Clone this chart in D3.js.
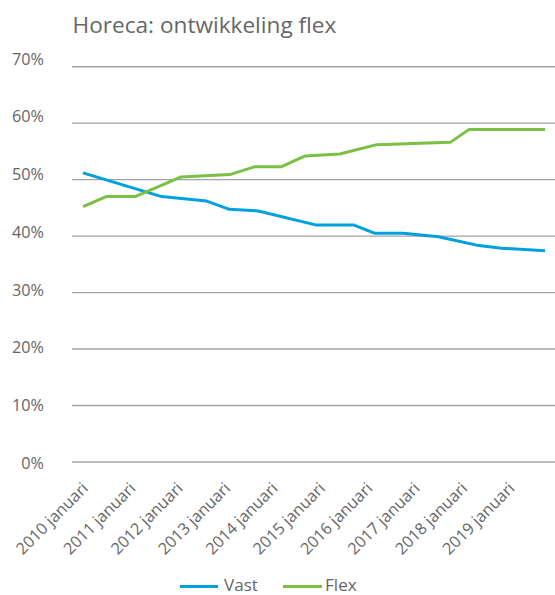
<!DOCTYPE html>
<html><head><meta charset="utf-8">
<script src="https://cdn.jsdelivr.net/npm/d3@7"></script>
<style>body{margin:0;background:#fff} svg{display:block}</style>
</head><body>
<script>
// ---- data ----
const titleText = "Horeca: ontwikkeling flex";
const tickYears = [2010, 2011, 2012, 2013, 2014, 2015, 2016, 2017, 2018, 2019];
const tickLabels = tickYears.map(y => y + " januari");
const yTicks = [0, 10, 20, 30, 40, 50, 60, 70];
const seriesNames = ["Vast", "Flex"];
// time (decimal year) and value (%) at each visible vertex
const vastT = [2010.00, 2011.66, 2012.61, 2013.09, 2013.70, 2014.93, 2015.72, 2016.16, 2016.76, 2017.50, 2018.31, 2018.84, 2019.75];
const vastV = [51.2, 47.0, 46.2, 44.75, 44.45, 41.95, 41.95, 40.5, 40.5, 39.9, 38.4, 37.85, 37.4];
const flexT = [2010.00, 2010.49, 2011.10, 2012.06, 2013.10, 2013.63, 2014.19, 2014.69, 2015.42, 2016.20, 2017.75, 2018.15, 2019.75];
const flexV = [45.2, 47.0, 47.0, 50.45, 50.9, 52.3, 52.3, 54.2, 54.55, 56.2, 56.6, 58.9, 58.9];
const colors = ["#00a0df", "#7ac143"];

// ---- layout ----
const W = 555, H = 595;
const FONT = "'Open Sans', sans-serif";
const TXT = "#666666";
const svg = d3.select("body").append("svg").attr("width", W).attr("height", H);

const x = d3.scaleLinear().domain([2010, 2019.75]).range([83, 545]);
const y = d3.scaleLinear().domain([0, 70]).range([462, 66.7]);
const yLab = d3.scaleLinear().domain([0, 70]).range([463, 58.5]);

function fitSize(text, base, target) {
  const t = svg.append("text").attr("font-family", FONT).attr("font-size", base).text(text);
  const w = t.node().getComputedTextLength();
  t.remove();
  return base * target / w;
}

// title
svg.append("text")
  .attr("x", 72.5).attr("y", 33.3)
  .attr("font-family", FONT).attr("font-size", fitSize(titleText, 22, 264))
  .attr("fill", TXT).text(titleText);

// gridlines
svg.append("g").selectAll("line").data(yTicks).join("line")
  .attr("x1", 72).attr("x2", W)
  .attr("y1", d => y(d)).attr("y2", d => y(d))
  .attr("stroke", "#a3a3a3").attr("stroke-width", 1.4);

// y labels
const yFs = fitSize("70%", 15, 32);
svg.append("g").selectAll("text").data(yTicks).join("text")
  .attr("x", 44).attr("y", d => yLab(d))
  .attr("text-anchor", "end").attr("dominant-baseline", "central")
  .attr("font-family", FONT).attr("font-size", yFs).attr("fill", TXT)
  .text(d => d + "%");

// x labels
const xFs = fitSize(tickLabels[0], 14, 94);
svg.append("g").selectAll("text").data(tickYears).join("text")
  .attr("transform", d => `translate(${x(d) + 2},${485}) rotate(-45)`)
  .attr("text-anchor", "end").attr("dominant-baseline", "central")
  .attr("font-family", FONT).attr("font-size", xFs).attr("fill", TXT)
  .text((d, i) => tickLabels[i]);

// lines
const line = d3.line().x(d => x(d[0])).y(d => y(d[1]));
const series = [
  d3.zip(vastT, vastV),
  d3.zip(flexT, flexV)
];
svg.append("g").selectAll("path").data(series).join("path")
  .attr("d", line).attr("fill", "none")
  .attr("stroke", (d, i) => colors[i]).attr("stroke-width", 3)
  .attr("stroke-linejoin", "round");

// legend
const legFs = fitSize("Vast", 16, 34);
const leg = [{x1: 180, x2: 218, tx: 224}, {x1: 283, x2: 322, tx: 325}];
const lg = svg.append("g").selectAll("g").data(seriesNames).join("g");
lg.append("line")
  .attr("x1", (d, i) => leg[i].x1).attr("x2", (d, i) => leg[i].x2)
  .attr("y1", 586.5).attr("y2", 586.5)
  .attr("stroke", (d, i) => colors[i]).attr("stroke-width", 3);
lg.append("text")
  .attr("x", (d, i) => leg[i].tx).attr("y", 584.5)
  .attr("dominant-baseline", "central")
  .attr("font-family", FONT).attr("font-size", legFs).attr("fill", TXT)
  .text(d => d);
</script>
</body></html>
